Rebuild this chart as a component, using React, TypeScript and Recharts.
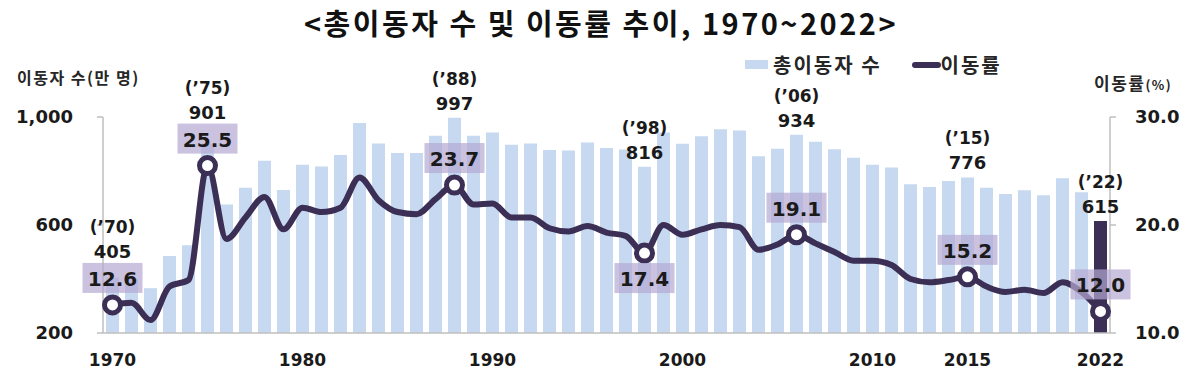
import React from "react";
import {
  ComposedChart,
  Bar,
  Line,
  XAxis,
  YAxis,
  Cell,
  LabelList,
} from "recharts";

// 1970~2022, 총이동자 수(만 명) / 이동률(%)
const years = [
  1970, 1971, 1972, 1973, 1974, 1975, 1976, 1977, 1978, 1979,
  1980, 1981, 1982, 1983, 1984, 1985, 1986, 1987, 1988, 1989,
  1990, 1991, 1992, 1993, 1994, 1995, 1996, 1997, 1998, 1999,
  2000, 2001, 2002, 2003, 2004, 2005, 2006, 2007, 2008, 2009,
  2010, 2011, 2012, 2013, 2014, 2015, 2016, 2017, 2018, 2019,
  2020, 2021, 2022,
];

const movers = [
  405, 400, 366, 485, 525, 901, 676, 738, 838, 730,
  823, 817, 859, 978, 902, 867, 867, 931, 997, 931,
  943, 897, 902, 878, 876, 906, 885, 880, 816, 943,
  901, 929, 955, 950, 855, 882, 934, 908, 881, 849,
  823, 813, 751, 741, 763, 776, 738, 715, 729, 710,
  773, 721, 615,
];

const rates = [
  12.6, 12.8, 11.2, 14.3, 14.9, 25.5, 18.7, 20.7, 22.6, 19.6,
  21.6, 21.2, 21.6, 24.4, 22.3, 21.2, 21.0, 22.4, 23.7, 21.9,
  22.0, 20.7, 20.7, 19.7, 19.4, 19.9, 19.3, 19.0, 17.4, 20.0,
  19.1, 19.6, 20.0, 19.8, 17.7, 18.2, 19.1, 18.3, 17.5, 16.7,
  16.7, 16.3, 15.0, 14.7, 14.9, 15.2, 14.3, 13.8, 14.0, 13.7,
  14.7, 13.8, 12.0,
];

const xTickYears = [1970, 1980, 1990, 2000, 2010, 2015, 2022];
const leftTicks = [200, 600, 1000];
const rightTicks = [10, 20, 30];
const markedYears = [1970, 1975, 1988, 1998, 2006, 2015, 2022];
const boxBelowYears = [1998];
const highlightYear = 2022;

const data = years.map((year, i) => ({ year, movers: movers[i], rate: rates[i] }));

const BAR_COLOR = "#c6d9f0";
const LINE_COLOR = "#3c2f55";
const BOX_COLOR = "#b3a8d1";
const TEXT = "#1a1a1a";
const NUM_FONT = "'DejaVu Sans', sans-serif";
const KR_FONT = "'Noto Sans CJK KR', sans-serif";

const LEFT_MIN = 200;
const LEFT_MAX = 1000;
const RIGHT_MIN = 10;
const RIGHT_MAX = 30;

const XTick = (props: any) => {
  const { x, y, payload } = props;
  if (!xTickYears.includes(payload.value)) return <g />;
  return (
    <text
      x={x}
      y={y}
      dy={33}
      textAnchor="middle"
      fontFamily={NUM_FONT}
      fontWeight="bold"
      fontSize={17}
      fill={TEXT}
    >
      {payload.value}
    </text>
  );
};

// year + value above the marked bars
const BarNote = (props: any) => {
  const { x, y, width, height, index } = props;
  const row = data[index];
  if (!row || !markedYears.includes(row.year)) return <g />;
  const cx = x + width / 2;
  // where the rate box sits, derived from the bar's own scale
  const ppu = height / (row.movers - LEFT_MIN);
  const bottom = y + height;
  const rateY =
    bottom - ((row.rate - RIGHT_MIN) / (RIGHT_MAX - RIGHT_MIN)) * (LEFT_MAX - LEFT_MIN) * ppu;
  let valueY = y - 15;
  if (!boxBelowYears.includes(row.year)) {
    const boxTop = rateY - 27 - 15;
    valueY = Math.min(valueY, boxTop - 12);
  }
  const yy = String(row.year).slice(2);
  return (
    <g fontFamily={NUM_FONT} fontWeight="bold" fill={TEXT} textAnchor="middle">
      <text x={cx} y={valueY - 24} dy={6} fontSize={17}>
        {`(’${yy})`}
      </text>
      <text x={cx} y={valueY} dy={7} fontSize={18}>
        {row.movers}
      </text>
    </g>
  );
};

const RateBox = (props: any) => {
  const { x, y, index } = props;
  const row = data[index];
  if (!row || !markedYears.includes(row.year)) return <g />;
  const cy = boxBelowYears.includes(row.year) ? y + 25 : y - 27;
  return (
    <g>
      <rect x={x - 30} y={cy - 15} width={60} height={30} fill={BOX_COLOR} opacity={0.7} />
      <text
        x={x}
        y={cy}
        dy={8}
        textAnchor="middle"
        fontFamily={NUM_FONT}
        fontWeight="bold"
        fontSize={20}
        fill={TEXT}
      >
        {row.rate.toFixed(1)}
      </text>
    </g>
  );
};

const RateDot = (props: any) => {
  const { cx, cy, index } = props;
  const row = data[index];
  if (!row || !markedYears.includes(row.year)) return <g key={`d${index}`} />;
  return (
    <circle
      key={`d${index}`}
      cx={cx}
      cy={cy}
      r={8}
      fill="#fff"
      stroke={LINE_COLOR}
      strokeWidth={5}
    />
  );
};

const LegendBox = () => (
  <div
    style={{
      position: "absolute",
      left: 745,
      top: 50,
      display: "flex",
      alignItems: "center",
      fontFamily: KR_FONT,
      fontWeight: "bold",
      fontSize: 20,
      letterSpacing: 2,
      color: "#262626",
      whiteSpace: "nowrap",
    }}
  >
    <span style={{ width: 23, height: 9, background: BAR_COLOR, marginRight: 5 }} />
    <span>총이동자 수</span>
    <span
      style={{
        width: 29,
        height: 6,
        borderRadius: 3,
        background: LINE_COLOR,
        marginLeft: 30,
      }}
    />
    <span>이동률</span>
  </div>
);

export default function App() {
  return (
    <div
      style={{
        position: "absolute",
        left: 0,
        top: 0,
        width: 1192,
        height: 385,
        background: "#fff",
        overflow: "hidden",
      }}
    >
      <div
        style={{
          position: "absolute",
          left: 0,
          width: 1202,
          top: 1,
          textAlign: "center",
          fontFamily: KR_FONT,
          fontWeight: "bold",
          fontSize: 29,
          letterSpacing: 2.5,
          color: "#111",
        }}
      >
        &lt;총이동자 수 및 이동률 추이, 1970~2022&gt;
      </div>
      <div
        style={{
          position: "absolute",
          left: 17,
          top: 65,
          fontFamily: KR_FONT,
          fontWeight: "bold",
          fontSize: 16,
          letterSpacing: 1.5,
          color: "#262626",
        }}
      >
        이동자 수(만 명)
      </div>
      <div
        style={{
          position: "absolute",
          left: 1094,
          top: 70,
          fontFamily: KR_FONT,
          fontWeight: "bold",
          fontSize: 17,
          letterSpacing: 1.5,
          color: "#262626",
        }}
      >
        이동률<span style={{ fontSize: 13 }}>(%)</span>
      </div>
      <LegendBox />
      <ComposedChart
        width={1192}
        height={385}
        data={data}
        margin={{ top: 117, right: 0, left: 23, bottom: 22 }}
      >
        <XAxis
          dataKey="year"
          interval={0}
          height={30}
          tick={<XTick />}
          tickLine={false}
          tickSize={0}
          tickMargin={0}
          axisLine={{ stroke: "#bfbfbf", strokeWidth: 1.5 }}
        />
        <YAxis
          yAxisId="left"
          width={80}
          domain={[LEFT_MIN, LEFT_MAX]}
          ticks={leftTicks}
          allowDataOverflow
          tickFormatter={(v: number) => v.toLocaleString("en-US")}
          tick={{ fontFamily: NUM_FONT, fontWeight: "bold", fontSize: 18, fill: TEXT }}
          tickSize={6}
          tickMargin={24}
          axisLine={{ stroke: "#bfbfbf", strokeWidth: 1.5 }}
          tickLine={{ stroke: "#bfbfbf", strokeWidth: 1.5 }}
        />
        <YAxis
          yAxisId="right"
          orientation="right"
          width={82}
          domain={[RIGHT_MIN, RIGHT_MAX]}
          ticks={rightTicks}
          allowDataOverflow
          tickFormatter={(v: number) => v.toFixed(1)}
          tick={{ fontFamily: NUM_FONT, fontWeight: "bold", fontSize: 18, fill: TEXT }}
          tickSize={6}
          tickMargin={19}
          axisLine={{ stroke: "#bfbfbf", strokeWidth: 1.5 }}
          tickLine={{ stroke: "#bfbfbf", strokeWidth: 1.5 }}
        />
        <Bar
          yAxisId="left"
          dataKey="movers"
          barSize={13}
          fill={BAR_COLOR}
          isAnimationActive={false}
        >
          {data.map((d) => (
            <Cell key={d.year} fill={d.year === highlightYear ? LINE_COLOR : BAR_COLOR} />
          ))}
          <LabelList dataKey="movers" content={<BarNote />} />
        </Bar>
        <Line
          yAxisId="right"
          dataKey="rate"
          type="monotone"
          stroke={LINE_COLOR}
          strokeWidth={6}
          dot={RateDot}
          activeDot={false}
          isAnimationActive={false}
        >
          <LabelList dataKey="rate" content={<RateBox />} />
        </Line>
      </ComposedChart>
    </div>
  );
}
